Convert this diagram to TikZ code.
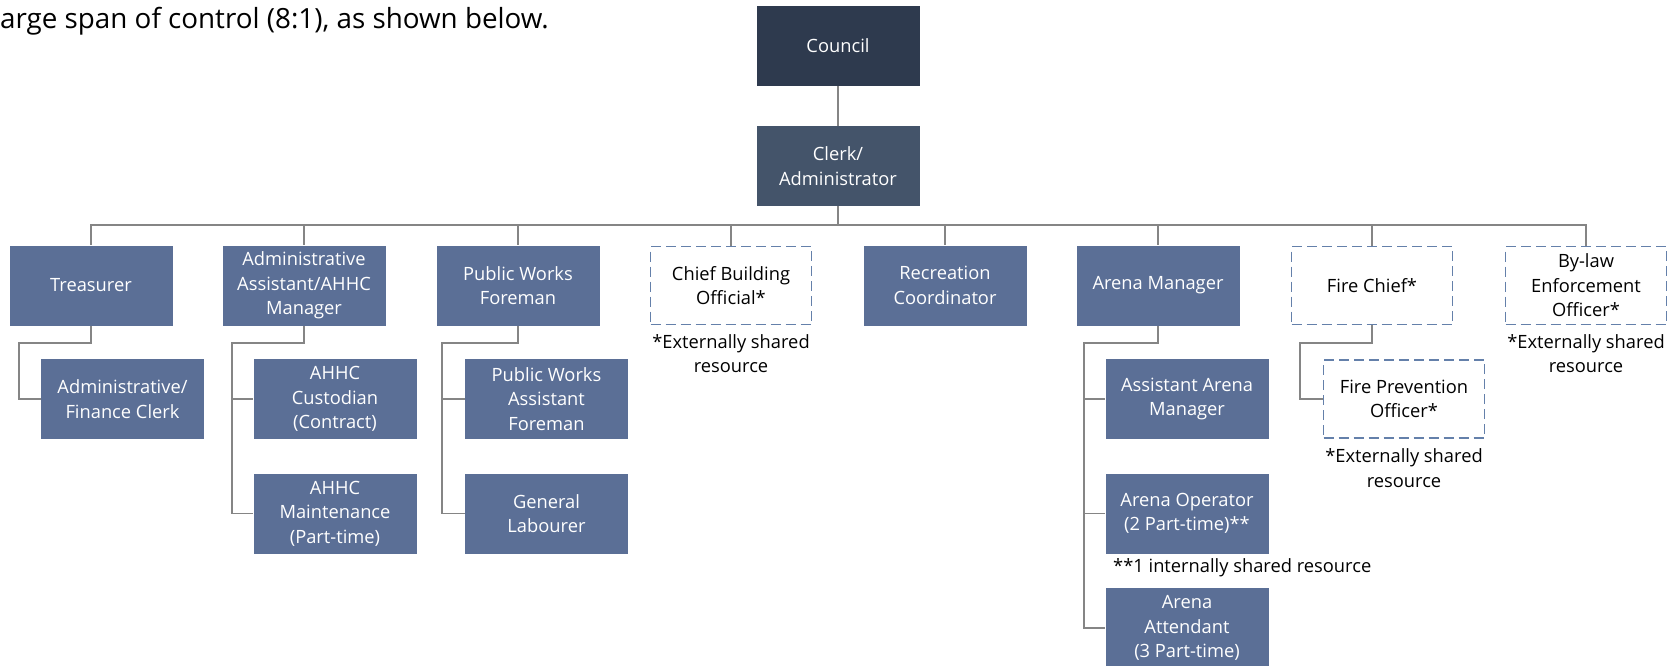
\documentclass[tikz,border=0pt]{standalone}
\usepackage{fontspec}
\setmainfont{Open Sans}
\usetikzlibrary{calc}
\definecolor{councilc}{HTML}{2E3A4E}
\definecolor{clerkc}{HTML}{44546A}
\definecolor{boxc}{HTML}{5B6F96}
\definecolor{dashc}{HTML}{6480AA}
\definecolor{linec}{HTML}{858585}
\newcommand{\boxfont}{\fontsize{18.3}{24.5}\selectfont}
\newcommand{\topfont}{\fontsize{27.8}{32}\selectfont}
\tikzset{
  orgbox/.style={rectangle, fill=boxc, text=white, minimum width=163pt, minimum height=80pt, inner sep=0pt, align=center, font=\boxfont},
  dashbox/.style={rectangle, draw=dashc, line width=1.6pt, dash pattern=on 10pt off 5pt, fill=white, text=black, minimum width=161pt, minimum height=78pt, inner sep=0pt, align=center, font=\boxfont},
  note/.style={align=center, inner sep=0pt, text=black, font=\boxfont},
  conn/.style={draw=linec, line width=1.3pt},
}
\begin{document}
\begin{tikzpicture}[x=1pt,y=-1pt]
\useasboundingbox (0,0) rectangle (1674,665);
\fill[white] (0,0) rectangle (1674,665);
\node[anchor=base east, font=\topfont, inner sep=0pt] (intro) at (549,28) {arge span of control (8:1), as shown below.};

\node[orgbox, fill=councilc] (council) at (838,46) {Council};
\node[orgbox, fill=clerkc] (clerk) at (838,166) {Clerk/\\Administrator};

\node[orgbox] (treas) at (91,285.5) {Treasurer};
\node[orgbox] (adas) at (304,285.5) {Administrative\\Assistant/AHHC\\Manager};
\node[orgbox] (pwf) at (518,285.5) {Public Works\\Foreman};
\node[dashbox] (cbo) at (731,285.5) {Chief Building\\Official*};
\node[orgbox] (rec) at (945,285.5) {Recreation\\Coordinator};
\node[orgbox] (am) at (1158,285.5) {Arena Manager};
\node[dashbox] (fc) at (1372,285.5) {Fire Chief*};
\node[dashbox] (bl) at (1586,285.5) {By-law\\Enforcement\\Officer*};

\node[orgbox] (afc) at (122.5,399) {Administrative/\\Finance Clerk};
\node[orgbox] (cust) at (335,399) {AHHC\\Custodian\\(Contract)};
\node[orgbox] (maint) at (335,513.5) {AHHC\\Maintenance\\(Part-time)};
\node[orgbox] (pwa) at (546.5,399) {Public Works\\Assistant\\Foreman};
\node[orgbox] (gl) at (546.5,513.5) {General\\Labourer};
\node[orgbox] (aam) at (1187,399) {Assistant Arena\\Manager};
\node[orgbox] (ao) at (1187,513.5) {Arena Operator\\(2 Part-time)**};
\node[orgbox] (aat) at (1187,628) {Arena\\Attendant\\(3 Part-time)};
\node[dashbox] (fpo) at (1404,399) {Fire Prevention\\Officer*};

\node[note] (cbon) at (731,353.5) {*Externally shared\\resource};
\node[note] (bln) at (1586,353.5) {*Externally shared\\resource};
\node[note] (fpon) at (1404,468) {*Externally shared\\resource};
\node[note, anchor=west] (aon) at (1113,568) {**1 internally shared resource};

\coordinate (bus) at (838,225);
\draw[conn] (council) -- (clerk);
\draw[conn] (clerk) -- (bus);
\foreach \n in {treas,adas,pwf,cbo,rec,am,fc,bl}{
  \draw[conn] (bus) -| (\n.north);
}
\coordinate (tj) at (19,343);
\draw[conn] (treas.south) |- (tj) |- (afc.west);
\coordinate (aj) at (232,343);
\draw[conn] (adas.south) |- (aj) |- (maint.west);
\draw[conn] (aj |- cust.west) -- (cust.west);
\coordinate (pj) at (442,343);
\draw[conn] (pwf.south) |- (pj) |- (gl.west);
\draw[conn] (pj |- pwa.west) -- (pwa.west);
\coordinate (mj) at (1084,343);
\draw[conn] (am.south) |- (mj) |- (aat.west);
\draw[conn] (mj |- aam.west) -- (aam.west);
\draw[conn] (mj |- ao.west) -- (ao.west);
\coordinate (fj) at (1300,343);
\draw[conn] (fc.south) |- (fj) |- (fpo.west);
\end{tikzpicture}
\end{document}
